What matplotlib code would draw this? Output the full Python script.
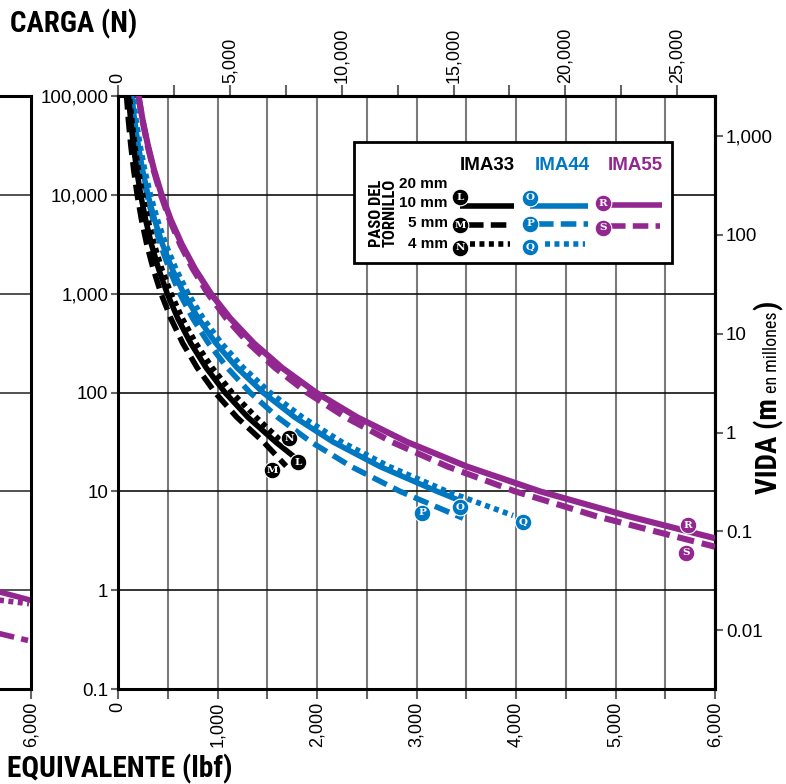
import numpy as np
import matplotlib
matplotlib.use('Agg')
import matplotlib.pyplot as plt
from matplotlib.lines import Line2D
from matplotlib.patches import Rectangle
from matplotlib.ticker import FixedLocator, NullLocator
from matplotlib import font_manager as fm
from matplotlib.font_manager import FontProperties

W, H, DPI = 786, 784, 100

# ---------------- data ----------------
# equivalent load in lbf, life in millions of inches
L_load = [87, 105, 128, 155, 188, 228, 277, 336, 408, 495, 601, 730, 886, 1075, 1305, 1584, 1779]
L_life = [1.78e5, 1e5, 5.62e4, 3.16e4, 1.78e4, 1e4, 5.62e3, 3.16e3, 1.78e3, 1e3, 562, 316, 178, 100, 56.2, 31.6, 22]
M_load = [70, 86, 105, 129, 158, 193, 236, 289, 354, 433, 531, 650, 796, 975, 1194, 1462, 1690]
M_life = [1.78e5, 1e5, 5.62e4, 3.16e4, 1.78e4, 1e4, 5.62e3, 3.16e3, 1.78e3, 1e3, 562, 316, 178, 100, 56.2, 31.6, 18]
N_load = [95, 115, 140, 169, 205, 248, 300, 364, 440, 533, 646, 782, 947, 1146, 1388, 1690]
N_life = [1.78e5, 1e5, 5.62e4, 3.16e4, 1.78e4, 1e4, 5.62e3, 3.16e3, 1.78e3, 1e3, 562, 316, 178, 100, 56.2, 29]

O_load = [112, 137, 167, 203, 247, 301, 367, 447, 544, 662, 807, 982, 1196, 1457, 1775, 2161, 2633, 3206, 3417]
O_life = [1.78e5, 1e5, 5.62e4, 3.16e4, 1.78e4, 1e4, 5.62e3, 3.16e3, 1.78e3, 1e3, 562, 316, 178, 100, 56.2, 31.6, 17.8, 10, 8.2]
P_load = [113, 136, 165, 199, 241, 291, 352, 425, 514, 621, 751, 908, 1098, 1327, 1604, 1939, 2344, 2834, 3467]
P_life = [1.78e5, 1e5, 5.62e4, 3.16e4, 1.78e4, 1e4, 5.62e3, 3.16e3, 1.78e3, 1e3, 562, 316, 178, 100, 56.2, 31.6, 17.8, 10, 5.35]
Q_load = [124, 151, 183, 222, 269, 326, 396, 480, 582, 706, 857, 1039, 1260, 1528, 1854, 2248, 2727, 3306, 3970]
Q_life = [1.78e5, 1e5, 5.62e4, 3.16e4, 1.78e4, 1e4, 5.62e3, 3.16e3, 1.78e3, 1e3, 562, 316, 178, 100, 56.2, 31.6, 17.8, 10, 5.7]

R_load = [171, 206, 249, 301, 363, 439, 530, 641, 774, 934, 1129, 1364, 1648, 1990, 2404, 2905, 3509, 4241, 5124, 6000]
R_life = [1.78e5, 1e5, 5.62e4, 3.16e4, 1.78e4, 1e4, 5.62e3, 3.16e3, 1.78e3, 1e3, 562, 316, 178, 100, 56.2, 31.6, 17.8, 10, 5.62, 3.35]
S_load = [171, 205, 247, 297, 358, 431, 519, 625, 752, 904, 1089, 1311, 1578, 1899, 2286, 2752, 3313, 3990, 4803, 6000]
S_life = [1.78e5, 1e5, 5.62e4, 3.16e4, 1.78e4, 1e4, 5.62e3, 3.16e3, 1.78e3, 1e3, 562, 316, 178, 100, 56.2, 31.6, 17.8, 10, 5.62, 2.75]

tag_letters = ['L', 'M', 'N', 'O', 'P', 'Q', 'R', 'S']
tag_load = [1809, 1548, 1719, 3437, 3055, 4070, 5729, 5709]
tag_life = [19.8, 16.4, 34.6, 6.94, 6.04, 4.9, 4.56, 2.38]

# neighbouring (cropped) chart on the left
left_solid_load = [5650, 6000]
left_solid_life = [0.98, 0.79]
left_dot_load = [5650, 5980]
left_dot_life = [0.80, 0.73]
left_dash_load = [5650, 5970]
left_dash_life = [0.37, 0.31]

x_ticks = [0, 1000, 2000, 3000, 4000, 5000, 6000]
x_ticklabels = ['0', '1,000', '2,000', '3,000', '4,000', '5,000', '6,000']
x_minor = [500, 1500, 2500, 3500, 4500, 5500]
y_ticks = [0.1, 1, 10, 100, 1e3, 1e4, 1e5]
y_ticklabels = ['0.1', '1', '10', '100', '1,000', '10,000', '100,000']
top_ticks = [0, 5000, 10000, 15000, 20000, 25000]
top_ticklabels = ['0', '5,000', '10,000', '15,000', '20,000', '25,000']
top_minor = [2500, 7500, 12500, 17500, 22500]
right_ticks = [0.01, 0.1, 1, 10, 100, 1000]
right_ticklabels = ['0.01', '0.1', '1', '10', '100', '1,000']

BLACK = '#000000'
BLUE = '#0077c1'
PURPLE = '#92278f'
GRID_GRAY = '#7a7a7a'
TICK_GRAY = '#666666'

names = {f.name for f in fm.fontManager.ttflist}
SANS = 'Liberation Sans' if 'Liberation Sans' in names else 'DejaVu Sans'
plt.rcParams['font.family'] = [SANS, 'DejaVu Sans']


# ---- look for a condensed sans font (for the heavy titles) ----
def _wnum(w):
    if isinstance(w, (int, float)):
        return w
    return {'bold': 700, 'heavy': 800, 'black': 900, 'semibold': 600, 'demibold': 600,
            'extra bold': 800, 'ultrabold': 800, 'normal': 400, 'regular': 400,
            'medium': 500, 'light': 300}.get(str(w).lower(), 400)


def _is_cond(f):
    s = str(f.stretch).lower()
    if 'condensed' in s:
        return True
    try:
        if int(f.stretch) < 500:
            return True
    except (TypeError, ValueError):
        pass
    n = f.name.lower()
    return 'narrow' in n or 'condensed' in n or n.endswith(' cond')


def find_cond(bold):
    pref = ['liberation sans narrow', 'roboto condensed', 'noto sans', 'open sans',
            'dejavu sans', 'lato', 'inter']
    best, best_rank = None, 99
    for f in fm.fontManager.ttflist:
        if not _is_cond(f) or str(f.style).lower() != 'normal':
            continue
        w = _wnum(f.weight)
        if bold and not (650 <= w <= 750):
            continue
        if not bold and not (350 <= w <= 450):
            continue
        n = f.name.lower()
        rank = 50
        for i, p in enumerate(pref):
            if n.startswith(p):
                rank = i
                break
        if 'extra' in str(f.stretch).lower() or 'semi' in str(f.stretch).lower():
            rank += 20
        if rank < best_rank:
            best, best_rank = f, rank
    return best


_cb = find_cond(True)
_cr = find_cond(False)
FP_COND_BOLD = FontProperties(fname=_cb.fname) if _cb else FontProperties(family=SANS, weight='bold')
FP_COND_REG = FontProperties(fname=_cr.fname) if _cr else FontProperties(family=SANS)

SOLID = '-'
DASHED = (0, (2.8, 1.3))
DOTTED = (0, (0.9, 0.8))
LW = 4.0
TAG_MS = 12
TAG_FS = 7.5

fig = plt.figure(figsize=(W / DPI, H / DPI), dpi=DPI)


def fx(px):
    return px / W


def fy(py):
    return 1 - py / H


AX_L, AX_R, AX_T, AX_B = 118, 715, 96, 689


def axx(px):
    return (px - AX_L) / (AX_R - AX_L)


def axy(py):
    return (AX_B - py) / (AX_B - AX_T)


# ---------------- left cropped chart ----------------
ax0 = fig.add_axes([fx(31 - (AX_R - AX_L)), fy(AX_B), (AX_R - AX_L) / W, (AX_B - AX_T) / H])
ax0.set_xlim(0, 6000)
ax0.set_yscale('log')
ax0.set_ylim(0.1, 1e5)
ax0.yaxis.set_major_locator(FixedLocator(y_ticks))
ax0.yaxis.set_minor_locator(NullLocator())
ax0.set_xticks([x_ticks[-1]], [x_ticklabels[-1]])
ax0.tick_params(axis='x', direction='out', length=7, width=1.5, color=TICK_GRAY,
                labelsize=13, labelrotation=90, pad=2)
ax0.tick_params(axis='y', left=False, labelleft=False)
ax0.grid(axis='y', which='major', color='#333333', lw=1.2)
ax0.set_axisbelow(True)
for s in ax0.spines.values():
    s.set_linewidth(2.2)
ax0.plot(left_solid_load, left_solid_life, color=PURPLE, lw=LW, ls=SOLID, solid_capstyle='butt')
ax0.plot(left_dot_load, left_dot_life, color=PURPLE, lw=LW, ls=DOTTED, dash_capstyle='butt')
ax0.plot(left_dash_load, left_dash_life, color=PURPLE, lw=LW, ls=DASHED, dash_capstyle='butt')

# ---------------- main chart ----------------
ax = fig.add_axes([fx(AX_L), fy(AX_B), (AX_R - AX_L) / W, (AX_B - AX_T) / H])
ax.set_xlim(0, 6000)
ax.set_yscale('log')
ax.set_ylim(0.1, 1e5)
ax.set_xticks(x_ticks, x_ticklabels)
ax.xaxis.set_minor_locator(FixedLocator(x_minor))
ax.yaxis.set_major_locator(FixedLocator(y_ticks))
ax.yaxis.set_minor_locator(NullLocator())
ax.set_yticklabels(y_ticklabels)
ax.tick_params(axis='x', which='both', direction='out', length=7, width=1.5,
               color=TICK_GRAY, labelsize=13, labelrotation=90, pad=2)
ax.tick_params(axis='y', which='major', direction='out', length=5, width=1.5,
               color=TICK_GRAY, labelsize=13.5, pad=2)
ax.grid(axis='x', which='both', color=GRID_GRAY, lw=1.5)
ax.grid(axis='y', which='major', color='#111111', lw=1.2)
ax.set_axisbelow(True)
for s in ax.spines.values():
    s.set_linewidth(2.2)

# top axis: CARGA (N)
secx = ax.secondary_xaxis('top', functions=(lambda x: x * 4.44822, lambda x: x / 4.44822))
secx.set_xticks(top_ticks, top_ticklabels)
secx.xaxis.set_minor_locator(FixedLocator(top_minor))
secx.tick_params(axis='x', which='both', direction='out', length=8, width=1.5,
                 color=TICK_GRAY, labelsize=13, labelrotation=90, pad=1)
secx.spines['top'].set_linewidth(2.2)

# right axis: VIDA (m)
secy = ax.secondary_yaxis('right', functions=(lambda y: y * 0.0254, lambda y: y / 0.0254))
secy.yaxis.set_major_locator(FixedLocator(right_ticks))
secy.yaxis.set_minor_locator(NullLocator())
secy.set_yticklabels(right_ticklabels)
secy.tick_params(axis='y', which='major', direction='out', length=6, width=1.5,
                 color=TICK_GRAY, labelsize=13.5, pad=2)
secy.spines['right'].set_linewidth(2.2)

curves = [
    (R_load, R_life, PURPLE, SOLID, 4.4),
    (S_load, S_life, PURPLE, DASHED, 4.4),
    (O_load, O_life, BLUE, SOLID, LW),
    (P_load, P_life, BLUE, DASHED, LW),
    (Q_load, Q_life, BLUE, DOTTED, LW),
    (L_load, L_life, BLACK, SOLID, LW),
    (M_load, M_life, BLACK, DASHED, LW),
    (N_load, N_life, BLACK, DOTTED, LW),
]
for xs, ys, c, ls, lw in curves:
    ax.plot(xs, ys, color=c, ls=ls, lw=lw, solid_capstyle='butt', dash_capstyle='butt',
            solid_joinstyle='round', zorder=3)

tag_colors = [BLACK, BLACK, BLACK, BLUE, BLUE, BLUE, PURPLE, PURPLE]
for letter, xv, yv, c in zip(tag_letters, tag_load, tag_life, tag_colors):
    ax.plot([xv], [yv], 'o', ms=TAG_MS, color=c, mec='white', mew=0.8, zorder=6)
    ax.text(xv, yv, letter, color='white', fontsize=TAG_FS, fontweight='bold',
            family='DejaVu Serif', ha='center', va='center', zorder=7)

# ---------------- legend ----------------
box = Rectangle((axx(354), axy(263)), axx(672) - axx(354), axy(142) - axy(263),
                transform=ax.transAxes, facecolor='white', edgecolor='black', lw=2.0,
                zorder=10, clip_on=False)
ax.add_patch(box)

for txt, cx, c in [('IMA33', 487, BLACK), ('IMA44', 562, BLUE), ('IMA55', 635, PURPLE)]:
    ax.text(axx(cx), axy(165), txt, transform=ax.transAxes, color=c, fontsize=13.5,
            fontweight='bold', ha='center', va='center', zorder=11)

for txt, py in [('20 mm', 184), ('10 mm', 203), ('5 mm', 223), ('4 mm', 244)]:
    ax.text(axx(448), axy(py), txt, transform=ax.transAxes, color='black', fontsize=11,
            fontweight='bold', ha='right', va='center', zorder=11)

t_paso = ax.text(axx(383), axy(213), 'PASO DEL\nTORNILLO', transform=ax.transAxes, rotation=90,
                 ha='center', va='center', multialignment='center',
                 linespacing=0.9, zorder=11, fontproperties=FP_COND_BOLD)
t_paso.set_fontsize(11.5)

leg_lines = [
    (460, 514, 206, BLACK, SOLID), (468, 513, 225, BLACK, DASHED), (470, 510, 244, BLACK, DOTTED),
    (530, 588, 206, BLUE, SOLID), (538, 588, 224, BLUE, DASHED), (545, 585, 244, BLUE, DOTTED),
    (603, 662, 205, PURPLE, SOLID), (610, 660, 226, PURPLE, DASHED),
]
for x0, x1, py, c, ls in leg_lines:
    ax.add_line(Line2D([axx(x0), axx(x1)], [axy(py), axy(py)], transform=ax.transAxes,
                       color=c, ls=ls, lw=LW, solid_capstyle='butt', dash_capstyle='butt',
                       zorder=11, clip_on=False))

leg_tags = [('L', 460, 197, BLACK), ('M', 460, 225, BLACK), ('N', 460, 248, BLACK),
            ('O', 530, 198, BLUE), ('P', 530, 224, BLUE), ('Q', 530, 247, BLUE),
            ('R', 603, 203, PURPLE), ('S', 603, 228, PURPLE)]
for letter, px, py, c in leg_tags:
    ax.plot([axx(px)], [axy(py)], 'o', ms=TAG_MS, color=c, mec='white', mew=0.8,
            transform=ax.transAxes, zorder=12, clip_on=False)
    ax.text(axx(px), axy(py), letter, transform=ax.transAxes, color='white', fontsize=TAG_FS,
            fontweight='bold', family='DejaVu Serif', ha='center', va='center', zorder=13)

# ---------------- titles (sized to the widths seen in the reference) ----------------
fig.canvas.draw()
renderer = fig.canvas.get_renderer()


def fit_text(t, target, axis='w', maxsize=None):
    ext = t.get_window_extent(renderer)
    cur = ext.width if axis == 'w' else ext.height
    fs = t.get_fontsize() * target / cur
    if maxsize:
        fs = min(fs, maxsize)
    t.set_fontsize(fs)
    return fs


# keep the legend's rotated caption inside its slot
fit_text(t_paso, 68, 'h', maxsize=12)

t_top = fig.text(fx(10), fy(32), 'CARGA (N)', ha='left', va='baseline',
                 fontproperties=FP_COND_BOLD)
t_top.set_fontsize(21)
fit_text(t_top, 127, 'w', maxsize=22)

t_bot = fig.text(fx(7), fy(777), 'EQUIVALENTE (lbf)', ha='left', va='baseline',
                 fontproperties=FP_COND_BOLD)
t_bot.set_fontsize(21)
fit_text(t_bot, 225, 'w', maxsize=22)

# right label built from pieces sharing one baseline
bx, by = 777, 494
big = t_top.get_fontsize()
t1 = fig.text(fx(bx), fy(by), 'VIDA (m', rotation=90, rotation_mode='anchor', ha='left',
              va='baseline', fontproperties=FP_COND_BOLD)
t1.set_fontsize(big)
ext = t1.get_window_extent(renderer)
top_px = H - ext.y1
t2 = fig.text(fx(bx), fy(top_px - 5), 'en millones', rotation=90, rotation_mode='anchor',
              ha='left', va='baseline', fontproperties=FP_COND_REG)
t2.set_fontsize(big * 0.62)
ext2 = t2.get_window_extent(renderer)
top2 = H - ext2.y1
t3 = fig.text(fx(bx), fy(top2 - 2), ')', rotation=90, rotation_mode='anchor', ha='left',
              va='baseline', fontproperties=FP_COND_BOLD)
t3.set_fontsize(big)

fig.savefig('out.png', dpi=DPI)
